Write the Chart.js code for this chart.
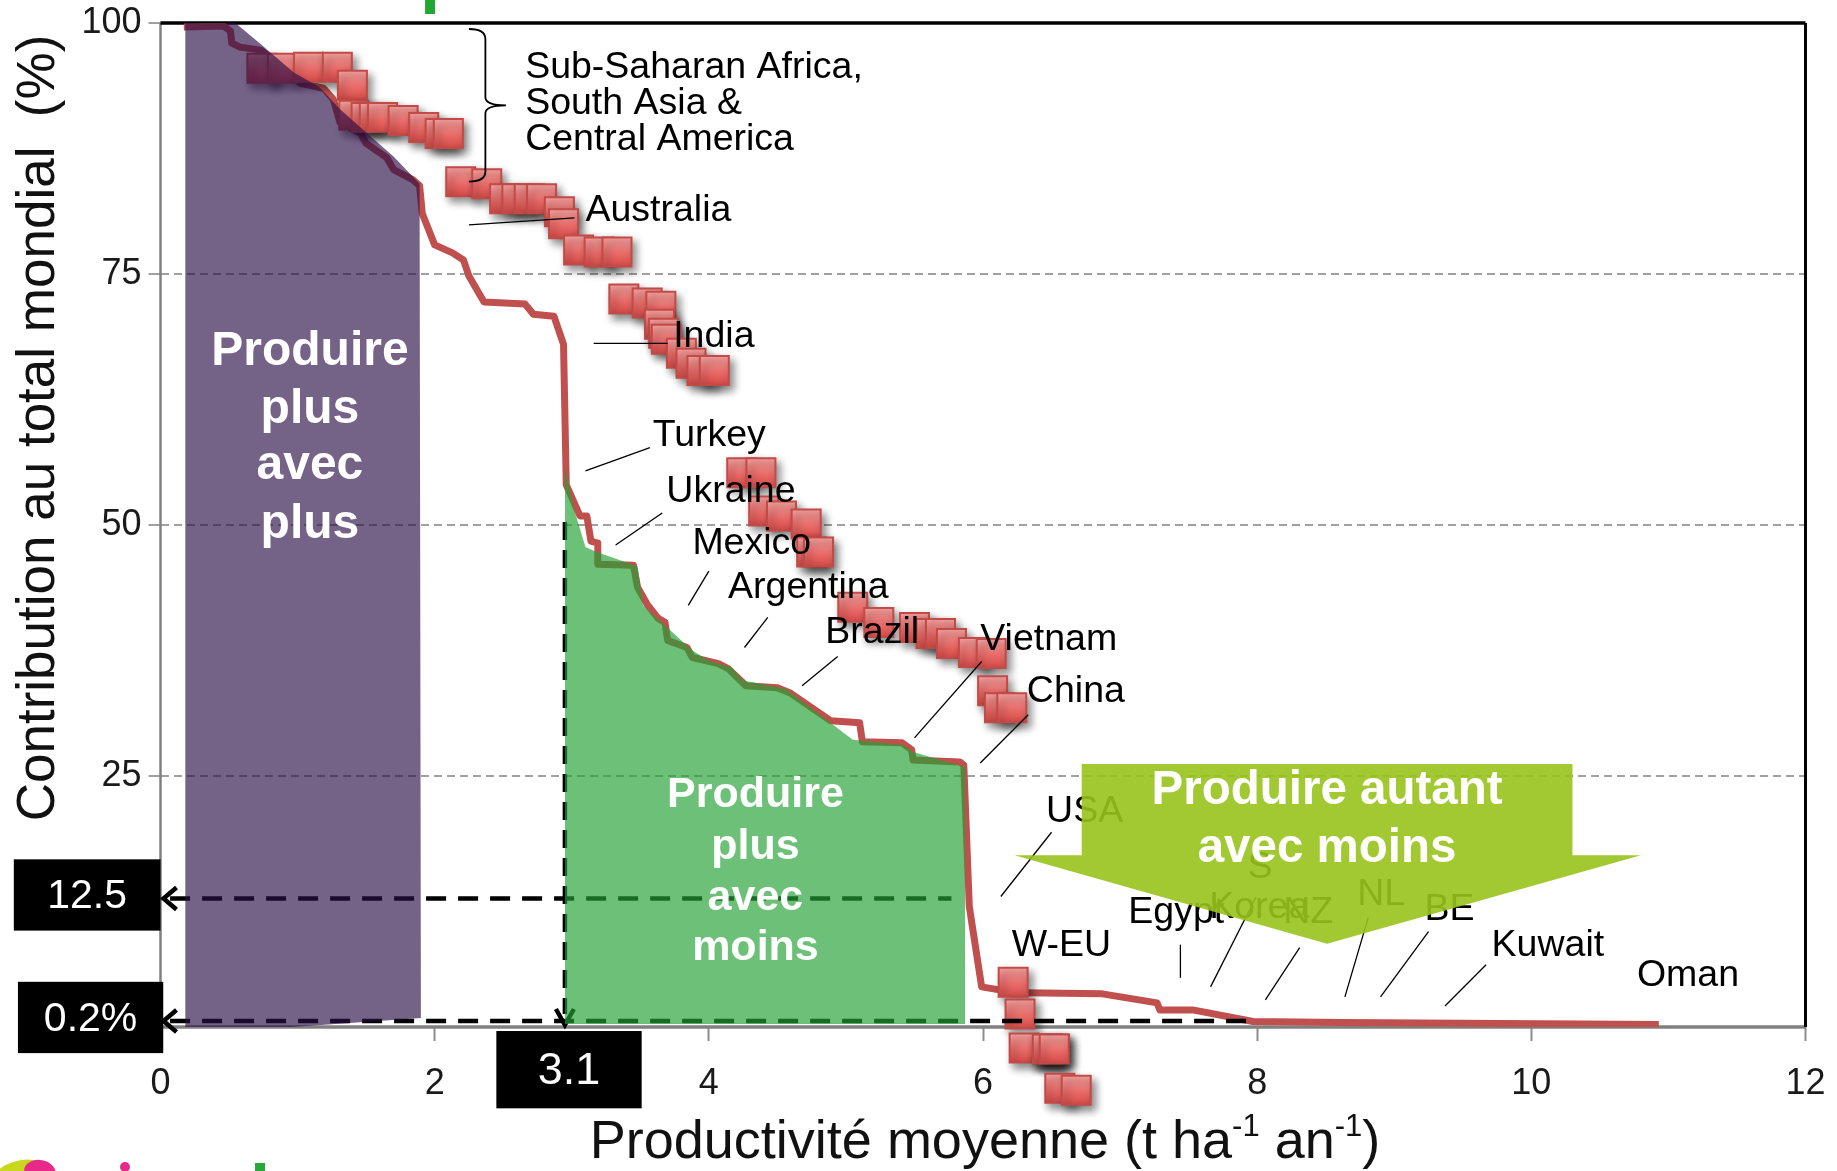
<!DOCTYPE html>
<html>
<head>
<meta charset="utf-8">
<script src="https://cdn.jsdelivr.net/npm/chart.js@4.4.1/dist/chart.umd.min.js"></script>
<style>
  html, body { margin: 0; padding: 0; background: #fff; }
  canvas { display: block; }
</style>
</head>
<body>
<canvas id="mycanvas" width="1837" height="1171"></canvas>
<script>
// cumulative curve: mean productivity (t/ha/an) vs contribution to world total (%)
var curveX = [0.17, 0.46, 0.51, 0.52, 0.58, 0.73, 0.97, 1.02, 1.19, 1.26,
              1.31, 1.46, 1.50, 1.65, 1.70, 1.84, 1.89, 1.91, 2.00, 2.13,
              2.21, 2.25, 2.36, 2.66, 2.72, 2.87, 2.94, 2.96, 3.06, 3.11,
              3.14, 3.19, 3.19, 3.45, 3.48, 3.55, 3.63, 3.68, 3.70, 3.84,
              3.88, 4.07, 4.14, 4.27, 4.50, 4.59, 4.89, 5.10, 5.12, 5.41,
              5.48, 5.49, 5.83, 5.86, 5.90, 5.99, 6.12, 6.30, 6.87, 7.27,
              7.29, 7.53, 7.97, 8.62, 10.93];
var curveY = [99.6, 99.7, 99.2, 98.0, 97.6, 97.3, 94.7, 94.0, 93.5, 92.4,
              90.1, 89.0, 88.0, 86.6, 85.4, 84.4, 83.8, 81.0, 77.9, 77.1,
              76.4, 74.8, 72.2, 72.0, 71.0, 70.8, 68.0, 54.0, 50.9, 50.9,
              48.4, 48.2, 46.1, 46.0, 43.8, 42.1, 40.7, 40.3, 38.5, 37.8,
              36.8, 36.2, 35.7, 34.0, 33.8, 33.3, 30.5, 30.3, 28.4, 28.3,
              27.6, 26.6, 26.4, 26.1, 12.0, 4.0, 3.7, 3.4, 3.3, 2.4,
              1.7, 1.7, 0.55, 0.45, 0.25];

// red square markers
var squareX = [0.74, 0.89, 1.08, 1.29, 1.40, 1.41, 1.50, 1.56, 1.62, 1.77, 1.92, 2.04, 2.10,
               2.19, 2.38, 2.51, 2.60, 2.69, 2.78, 2.91, 2.94, 3.05, 3.20, 3.33,
               3.38, 3.55, 3.65, 3.64, 3.67, 3.69, 3.80, 3.87, 3.95, 4.04,
               4.24, 4.38, 4.40, 4.53, 4.71, 4.75, 4.80,
               5.05, 5.24, 5.50, 5.62, 5.69, 5.77, 5.93, 6.06,
               6.07, 6.12, 6.21,
               6.22, 6.27, 6.30, 6.47, 6.52, 6.56, 6.68];
var squareY = [95.5, 95.5, 95.6, 95.6, 93.8, 90.8, 90.6, 90.6, 90.6, 90.3, 89.6, 89.0, 89.0,
               84.2, 84.0, 82.5, 82.5, 82.5, 82.5, 81.2, 80.0, 77.4, 77.2, 77.2,
               72.5, 72.1, 71.8, 70.0, 69.1, 68.5, 67.1, 66.1, 65.4, 65.4,
               55.2, 55.2, 51.4, 50.9, 50.1, 47.3, 47.3,
               41.8, 40.3, 39.8, 39.2, 39.2, 38.2, 37.3, 37.2,
               33.5, 31.8, 31.8,
               4.45, 1.3, -2.1, -2.2, -2.2, -6.1, -6.3];

// shaded zones
var purpleX = [0.18, 0.52, 0.73, 0.97, 1.16, 1.31, 1.50, 1.70, 1.89, 1.90];
var purpleY = [100.7, 100.3, 97.9, 95.1, 93.6, 91.4, 89.1, 86.7, 84.0, 0.9];
var purpleBaseX = [0.18, 1.90];
var purpleBaseY = [-0.75, 0.9];
var greenX = [2.95, 3.02, 3.10, 3.18, 3.48, 3.52, 3.72, 3.88, 4.00, 4.17, 4.25, 4.56, 5.05, 5.42, 5.49, 5.87];
var greenY = [55.9, 51.4, 47.8, 47.3, 45.9, 42.0, 39.5, 37.5, 36.5, 35.8, 34.5, 33.7, 28.6, 28.1, 27.4, 25.9];

// dashed reference lines
var refLow = 0.6;
var refMid = 12.8;
var refProd = 2.95;
var midLineX = [0.07, 5.77];
var lowLineX = [0.07, 7.97];
var prodLineY = [50.3, 1.3];

// country labels
var labelText = ['Australia', 'India', 'Turkey', 'Ukraine', 'Mexico', 'Argentina', 'Brazil', 'Vietnam', 'China',
                 'USA', 'W-EU', 'Egypt', 'S', 'Korea', 'NZ', 'NL', 'BE', 'Kuwait', 'Oman'];
var labelX = [3.10, 3.74, 3.59, 3.69, 3.88, 4.14, 4.85, 5.98, 6.32, 6.46, 6.21, 7.06, 7.93, 7.65, 8.19, 8.73, 9.22, 9.71, 10.77];
var labelY = [81.3, 68.8, 58.9, 53.3, 48.1, 43.8, 39.3, 38.6, 33.4, 21.4, 8.1, 11.4, 15.9, 11.9, 11.4, 13.2, 11.7, 8.1, 5.1];
var leaders = [[2.25, 79.9, 3.02, 80.6], [3.16, 68.1, 3.70, 68.1], [3.10, 55.4, 3.57, 57.7], [3.32, 48.0, 3.66, 51.2],
               [3.85, 42.0, 4.00, 45.4], [4.26, 37.8, 4.43, 40.8], [4.68, 34.0, 4.94, 36.9], [5.50, 28.8, 5.99, 36.4],
               [5.98, 26.3, 6.33, 31.1], [6.13, 13.0, 6.50, 19.4], [7.44, 4.9, 7.44, 8.2], [7.66, 4.0, 7.99, 12.9],
               [8.06, 2.7, 8.31, 7.9], [8.64, 3.0, 8.81, 10.9], [8.90, 3.0, 9.25, 9.5], [9.37, 2.1, 9.67, 6.2]];
var regionLines = ['Sub-Saharan Africa,', 'South Asia &', 'Central America'];
var regionY = [95.6, 92.0, 88.4];

var xTicks = [0, 12, 2];
var yTicks = [0, 100, 25];

var FONT = '"Liberation Sans", Arial, Helvetica, sans-serif';

function pts(xs, ys) {
    return xs.map(function(x, i) { return {x: x, y: ys[i]}; });
}

function squareFill(c) {
    var ys = c.chart.scales.y;
    if (c.type !== 'data' || !ys || !c.parsed) return '#e8706d';
    var p = ys.getPixelForValue(c.parsed.y);
    if (!isFinite(p)) return '#e8706d';
    var g = c.chart.ctx.createLinearGradient(0, p - 14, 0, p + 14);
    g.addColorStop(0, '#f9a3a1');
    g.addColorStop(0.55, '#e96c69');
    g.addColorStop(1, '#d64c49');
    return g;
}

var overlay = {
    id: 'overlay',
    beforeDatasetsDraw: function(chart) {
        var ctx = chart.ctx, sx = chart.scales.x, sy = chart.scales.y;
        var l = sx.getPixelForValue(0), r = sx.getPixelForValue(12);
        var t = sy.getPixelForValue(100), b = sy.getPixelForValue(0);
        ctx.save();
        ctx.strokeStyle = '#808080';
        ctx.lineWidth = 2.5;
        ctx.beginPath(); ctx.moveTo(l, t); ctx.lineTo(l, b); ctx.stroke();
        ctx.lineWidth = 3.5;
        ctx.beginPath(); ctx.moveTo(l, b); ctx.lineTo(r, b); ctx.stroke();
        ctx.strokeStyle = '#000';
        ctx.lineWidth = 3.5;
        ctx.beginPath(); ctx.moveTo(l, t); ctx.lineTo(r, t); ctx.stroke();
        ctx.lineWidth = 3;
        ctx.beginPath(); ctx.moveTo(r, t); ctx.lineTo(r, b); ctx.stroke();
        // green mark cropped at top of slide
        ctx.fillStyle = '#22a832';
        ctx.fillRect(sx.getPixelForValue(1.93), 0, 10, 14);
        ctx.restore();
    },
    beforeDatasetDraw: function(chart, args) {
        if (args.index === 1) {
            chart.ctx.save();
            chart.ctx.shadowColor = 'rgba(0,0,0,0.45)';
            chart.ctx.shadowBlur = 8;
            chart.ctx.shadowOffsetX = 4;
            chart.ctx.shadowOffsetY = 5;
        }
    },
    afterDatasetDraw: function(chart, args) {
        var ctx = chart.ctx, sx = chart.scales.x, sy = chart.scales.y;
        if (args.index === 1) {
            // markers that fall below the axis are skipped by the library, draw them here
            var area = chart.chartArea;
            args.meta.data.forEach(function(el) {
                if (el.y >= area.bottom + 22) el.draw(ctx);
            });
            ctx.restore();
        }
        if (args.index === 4) {
            // arrow heads of the dashed lines
            ctx.save();
            ctx.strokeStyle = '#000';
            ctx.lineWidth = 4.5;
            [refMid, refLow].forEach(function(v) {
                var x0 = sx.getPixelForValue(0) + 3, y0 = sy.getPixelForValue(v);
                ctx.beginPath();
                ctx.moveTo(x0 + 13, y0 - 11); ctx.lineTo(x0, y0); ctx.lineTo(x0 + 13, y0 + 11);
                ctx.stroke();
            });
            var xv = sx.getPixelForValue(refProd), yv = sy.getPixelForValue(0) - 2;
            ctx.beginPath();
            ctx.moveTo(xv - 9, yv - 16); ctx.lineTo(xv, yv); ctx.lineTo(xv + 9, yv - 16);
            ctx.stroke();
            ctx.restore();
        }
    },
    afterDatasetsDraw: function(chart) {
        var ctx = chart.ctx, sx = chart.scales.x, sy = chart.scales.y;
        function X(v) { return sx.getPixelForValue(v); }
        function Y(v) { return sy.getPixelForValue(v); }
        ctx.save();
        ctx.textBaseline = 'middle';

        // white zone titles
        ctx.fillStyle = '#fff';
        ctx.textAlign = 'center';
        ctx.font = 'bold 48px ' + FONT;
        ['Produire', 'plus', 'avec', 'plus'].forEach(function(s, i) {
            ctx.fillText(s, X(1.09), Y([67.3, 61.5, 55.9, 50.0][i]));
        });
        ctx.font = 'bold 43px ' + FONT;
        ['Produire', 'plus', 'avec', 'moins'].forEach(function(s, i) {
            ctx.fillText(s, X(4.34), Y([23.1, 17.9, 12.8, 7.9][i]));
        });

        // leader lines
        ctx.strokeStyle = '#000';
        ctx.lineWidth = 1.3;
        leaders.forEach(function(s) {
            ctx.beginPath();
            ctx.moveTo(X(s[0]), Y(s[1]));
            ctx.lineTo(X(s[2]), Y(s[3]));
            ctx.stroke();
        });

        // brace
        ctx.lineWidth = 1.8;
        ctx.beginPath();
        ctx.moveTo(X(2.25), Y(99.4));
        ctx.quadraticCurveTo(X(2.37), Y(99.4), X(2.37), Y(98.4));
        ctx.lineTo(X(2.37), Y(92.6));
        ctx.quadraticCurveTo(X(2.37), Y(91.8), X(2.52), Y(91.8));
        ctx.quadraticCurveTo(X(2.37), Y(91.8), X(2.37), Y(91.0));
        ctx.lineTo(X(2.37), Y(85.2));
        ctx.quadraticCurveTo(X(2.37), Y(84.2), X(2.25), Y(84.2));
        ctx.stroke();

        // text labels
        ctx.fillStyle = '#000';
        ctx.textAlign = 'left';
        ctx.font = '37.5px ' + FONT;
        regionLines.forEach(function(s, i) { ctx.fillText(s, X(2.66), Y(regionY[i])); });
        labelText.forEach(function(s, i) { ctx.fillText(s, X(labelX[i]), Y(labelY[i])); });

        // big green arrow
        var arrow = [[6.72, 26.2], [10.30, 26.2], [10.30, 17.1], [10.80, 17.1], [8.51, 8.3], [6.23, 17.1], [6.72, 17.1]];
        ctx.fillStyle = 'rgba(152,194,28,0.9)';
        ctx.beginPath();
        arrow.forEach(function(p, i) {
            if (i === 0) ctx.moveTo(X(p[0]), Y(p[1])); else ctx.lineTo(X(p[0]), Y(p[1]));
        });
        ctx.closePath();
        ctx.fill();
        ctx.fillStyle = '#fff';
        ctx.textAlign = 'center';
        ctx.font = 'bold 47.5px ' + FONT;
        ctx.fillText('Produire autant', X(8.51), Y(23.5));
        ctx.fillText('avec moins', X(8.51), Y(17.7));

        // black value boxes
        var boxes = [['12.5', -1.07, 0.0, 16.7, 9.6], ['0.2%', -1.04, 0.02, 4.5, -2.6], ['3.1', 2.45, 3.51, -0.4, -8.1]];
        boxes.forEach(function(bx) {
            var x0 = X(bx[1]), x1 = X(bx[2]), y0 = Y(bx[3]), y1 = Y(bx[4]);
            ctx.fillStyle = '#000';
            ctx.fillRect(x0, y0, x1 - x0, y1 - y0);
            ctx.fillStyle = '#fff';
            ctx.font = (bx[0] === '3.1' ? '45px ' : '41px ') + FONT;
            ctx.fillText(bx[0], (x0 + x1) / 2, (y0 + y1) / 2 + 2);
        });
        ctx.restore();
    },
    afterDraw: function(chart) {
        var ctx = chart.ctx;
        ctx.save();
        ctx.fillStyle = '#111';
        // y axis title
        ctx.translate(39, 428);
        ctx.rotate(-Math.PI / 2);
        ctx.textAlign = 'center';
        ctx.textBaseline = 'middle';
        ctx.font = '53px ' + FONT;
        ctx.fillText('Contribution au total mondial  (%)', 0, 0);
        ctx.restore();

        // x axis title with superscripts
        ctx.save();
        ctx.fillStyle = '#111';
        ctx.textBaseline = 'alphabetic';
        ctx.textAlign = 'left';
        var parts = [['Productivité moyenne (t ha', 0], ['-1', 1], [' an', 0], ['-1', 1], [')', 0]];
        var big = '54px ' + FONT, small = '31px ' + FONT;
        var total = 0;
        parts.forEach(function(p) { ctx.font = p[1] ? small : big; total += ctx.measureText(p[0]).width; });
        var x = 985 - total / 2, base = 1158;
        parts.forEach(function(p) {
            ctx.font = p[1] ? small : big;
            ctx.fillText(p[0], x, p[1] ? base - 22 : base);
            x += ctx.measureText(p[0]).width;
        });

        // cropped logo fragment at the bottom edge of the slide
        ctx.fillStyle = '#c9d81e';
        ctx.beginPath(); ctx.ellipse(18, 1175, 26, 14, -0.3, 0, Math.PI * 2); ctx.fill();
        ctx.fillStyle = '#e8298a';
        ctx.beginPath(); ctx.ellipse(40, 1172, 16, 12, 0.2, 0, Math.PI * 2); ctx.fill();
        ctx.beginPath(); ctx.arc(125, 1167, 5, 0, Math.PI * 2); ctx.fill();
        ctx.fillStyle = '#27a83a';
        ctx.fillRect(255, 1163, 10, 8);
        ctx.restore();
    }
};

var lineBase = {showLine: true, pointRadius: 0, pointHoverRadius: 0};

var chartdata = {
    datasets: [
        Object.assign({label: 'Courbe cumulée', data: pts(curveX, curveY), borderColor: '#c0504d',
            borderWidth: 7, borderJoinStyle: 'round', order: 6}, lineBase),
        {label: 'Pays', data: pts(squareX, squareY), pointStyle: 'rect', pointRadius: 20.5, pointHoverRadius: 20.5,
            borderWidth: 2, borderColor: '#c24b48', backgroundColor: squareFill, order: 5, clip: false},
        Object.assign({label: '12.5', data: pts(midLineX, midLineX.map(function() { return refMid; })),
            borderColor: '#000', borderWidth: 4.5, borderDash: [20, 12], order: 4}, lineBase),
        Object.assign({label: '0.2%', data: pts(lowLineX, lowLineX.map(function() { return refLow; })),
            borderColor: '#000', borderWidth: 4.5, borderDash: [20, 12], order: 4, clip: false}, lineBase),
        Object.assign({label: '3.1', data: pts(prodLineY.map(function() { return refProd; }), prodLineY),
            borderColor: '#000', borderWidth: 4.5, borderDash: [18, 10], order: 4}, lineBase),
        Object.assign({label: 'Produire plus avec plus', data: pts(purpleX, purpleY), borderColor: 'rgba(0,0,0,0)',
            borderWidth: 0, backgroundColor: 'rgba(43,14,71,0.65)', fill: 6, order: 3}, lineBase),
        Object.assign({label: 'base', data: pts(purpleBaseX, purpleBaseY), borderColor: 'rgba(0,0,0,0)',
            borderWidth: 0, fill: false, order: 3}, lineBase),
        Object.assign({label: 'Produire plus avec moins', data: pts(greenX, greenY), borderColor: 'rgba(0,0,0,0)',
            borderWidth: 0, backgroundColor: 'rgba(36,161,54,0.67)', fill: {value: 0.3}, order: 2}, lineBase)
    ]
};

var ctx = document.getElementById('mycanvas');

var prodChart = new Chart(ctx, {
    type: 'scatter',
    data: chartdata,
    options: {
        responsive: false,
        animation: false,
        devicePixelRatio: 1,
        events: [],
        layout: {padding: {top: 23, right: 31.5, bottom: 0, left: 0}, autoPadding: false},
        plugins: {legend: {display: false}, tooltip: {enabled: false}},
        scales: {
            x: {
                type: 'linear', min: xTicks[0], max: xTicks[1],
                ticks: {stepSize: xTicks[2], font: {family: FONT, size: 36}, color: '#1a1a1a', padding: 21},
                grid: {drawOnChartArea: false, drawTicks: true, tickLength: 14, tickColor: '#8c8c8c', tickWidth: 2},
                border: {display: false},
                afterFit: function(s) { s.height = 144; s.paddingLeft = 0; s.paddingRight = 0; }
            },
            y: {
                min: yTicks[0], max: yTicks[1],
                ticks: {stepSize: yTicks[2], font: {family: FONT, size: 36}, color: '#1a1a1a', padding: 7,
                    callback: function(v) { return v === 0 ? '' : v; }},
                grid: {
                    color: function(c) { return (c.tick && (c.tick.value === 0 || c.tick.value === 100)) ? 'rgba(0,0,0,0)' : '#a0a0a0'; },
                    tickColor: function(c) { return (c.tick && c.tick.value === 0) ? 'rgba(0,0,0,0)' : '#a0a0a0'; },
                    lineWidth: 2, tickLength: 12, tickWidth: 2
                },
                border: {display: false, dash: [8, 5]},
                afterFit: function(s) { s.width = 160.5; s.paddingTop = 0; s.paddingBottom = 0; }
            }
        }
    },
    plugins: [overlay]
});
</script>
</body>
</html>
